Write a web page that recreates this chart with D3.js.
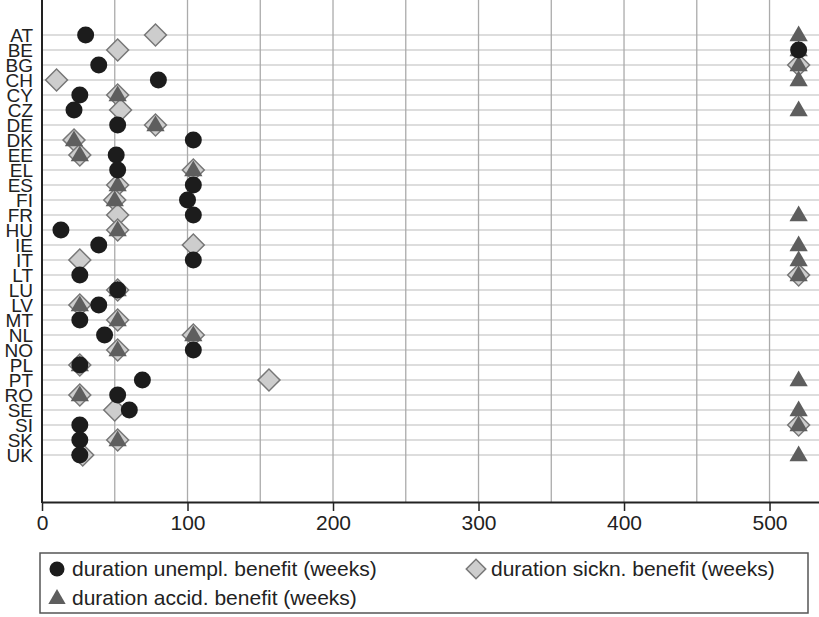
<!DOCTYPE html>
<html>
<head>
<meta charset="utf-8">
<script src="https://cdn.jsdelivr.net/npm/d3@7"></script>
<style>
  body { margin: 0; background: #fff; }
  #svg-container { width: 819px; height: 617px; }
  text { font-family: "Liberation Sans", Arial, sans-serif; fill: #222; }
</style>
</head>
<body>
<div id="svg-container"></div>
<script>
////////////////////////////  Data  ////////////////////////////
const countries = ["AT","BE","BG","CH","CY","CZ","DE","DK","EE","EL","ES","FI","FR","HU",
  "IE","IT","LT","LU","LV","MT","NL","NO","PL","PT","RO","SE","SI","SK","UK"];

// weeks
const unempl = [30,520,39,80,26,22,52,104,51,52,104,100,104,13,39,104,26,52,39,26,43,104,26,69,52,60,26,26,26];
const sickn  = [78,52,520,10,52,54,78,22,26,104,52,50,52,52,104,26,520,52,26,52,104,52,26,156,26,50,520,52,28];
const accid  = [520,520,520,520,52,520,78,22,26,104,52,50,520,52,520,520,520,52,26,52,104,52,26,520,26,520,520,52,520];

const xTicks = [0,100,200,300,400,500];
const xGrid = [50,100,150,200,250,300,350,400,450,500];

const legendLabels = [
  "duration unempl. benefit (weeks)",
  "duration sickn. benefit (weeks)",
  "duration accid. benefit (weeks)"
];

////////////////////////////  Init  ////////////////////////////
const width = 819, height = 617;
const plot = { left: 42, right: 819, top: 0, bottom: 502 };

const svg = d3.select("#svg-container").append("svg")
  .attr("width", width).attr("height", height);

const xScale = d3.scaleLinear().domain([0, 534]).range([plot.left, plot.right]);
const yScale = d3.scalePoint().domain(countries).range([35, 455]);

// shapes
const circleSym = d3.symbol().type(d3.symbolCircle).size(Math.PI * 8.5 * 8.5);
const diamondSym = d3.symbol().type(d3.symbolSquare).size(240);
const triSym = d3.symbol().type(d3.symbolTriangle).size(145);

const colUnempl = "#1c1c1c", colSickn = "#cdcdcd", colSicknStroke = "#777", colAccid = "#5e5e5e";

////////////////////////////  Grid  ////////////////////////////
svg.append("g").selectAll("line").data(countries).join("line")
  .attr("x1", plot.left).attr("x2", plot.right)
  .attr("y1", d => yScale(d)).attr("y2", d => yScale(d))
  .attr("stroke", "#d2d2d2").attr("stroke-width", 1.6);

svg.append("g").selectAll("line").data(xGrid).join("line")
  .attr("x1", d => xScale(d)).attr("x2", d => xScale(d))
  .attr("y1", plot.top).attr("y2", plot.bottom)
  .attr("stroke", "#ababab").attr("stroke-width", 1.3);

////////////////////////////  Axes  ////////////////////////////
const xAxis = svg.append("g")
  .attr("transform", `translate(0,${plot.bottom})`)
  .call(d3.axisBottom(xScale).tickValues(xTicks).tickSize(9).tickSizeOuter(0).tickPadding(4));
xAxis.select(".domain").attr("stroke", "#222").attr("stroke-width", 2);
xAxis.selectAll(".tick line").attr("stroke", "#222").attr("stroke-width", 1.5);
xAxis.selectAll(".tick text").style("font-size", "21px").attr("fill", "#222");

const yAxis = svg.append("g")
  .attr("transform", `translate(${plot.left},0)`)
  .call(d3.axisLeft(yScale).tickSize(0).tickPadding(9));
yAxis.select(".domain").remove();
yAxis.selectAll(".tick text").style("font-size", "19px").attr("fill", "#222");
svg.append("line")
  .attr("x1", plot.left).attr("x2", plot.left)
  .attr("y1", plot.top).attr("y2", plot.bottom + 1)
  .attr("stroke", "#222").attr("stroke-width", 2);

////////////////////////////  Points  ////////////////////////////
// sickness diamonds below, accident triangles, unemployment circles on top
svg.append("g").selectAll("path").data(countries).join("path")
  .attr("d", diamondSym)
  .attr("transform", (d, i) => `translate(${xScale(sickn[i])},${yScale(d)}) rotate(45)`)
  .attr("fill", colSickn).attr("stroke", colSicknStroke).attr("stroke-width", 1.5);

svg.append("g").selectAll("path").data(countries).join("path")
  .attr("d", triSym)
  .attr("transform", (d, i) => `translate(${xScale(accid[i])},${yScale(d) + 1})`)
  .attr("fill", colAccid);

svg.append("g").selectAll("path").data(countries).join("path")
  .attr("d", circleSym)
  .attr("transform", (d, i) => `translate(${xScale(unempl[i])},${yScale(d)})`)
  .attr("fill", colUnempl);

////////////////////////////  Legend  ////////////////////////////
const legend = svg.append("g");
legend.append("rect")
  .attr("x", 40).attr("y", 553).attr("width", 768).attr("height", 60)
  .attr("fill", "#fff").attr("stroke", "#555").attr("stroke-width", 1.5);

const legItems = [
  { x: 57, y: 569, sym: "circle" },
  { x: 476, y: 569, sym: "diamond" },
  { x: 57, y: 598, sym: "triangle" }
];
legItems.forEach((it, i) => {
  const g = legend.append("g").attr("transform", `translate(${it.x},${it.y})`);
  if (it.sym === "circle") {
    g.append("path").attr("d", d3.symbol().type(d3.symbolCircle).size(Math.PI * 7.5 * 7.5)()).attr("fill", colUnempl);
  } else if (it.sym === "diamond") {
    g.append("path").attr("d", d3.symbol().type(d3.symbolSquare).size(190)())
      .attr("transform", "rotate(45)")
      .attr("fill", colSickn).attr("stroke", colSicknStroke).attr("stroke-width", 1.5);
  } else {
    g.append("path").attr("d", d3.symbol().type(d3.symbolTriangle).size(130)())
      .attr("transform", "translate(0,1)").attr("fill", colAccid);
  }
  g.append("text").attr("x", 15).attr("y", 0).attr("dy", "0.35em")
    .style("font-size", "21px").text(legendLabels[i]);
});
</script>
</body>
</html>
